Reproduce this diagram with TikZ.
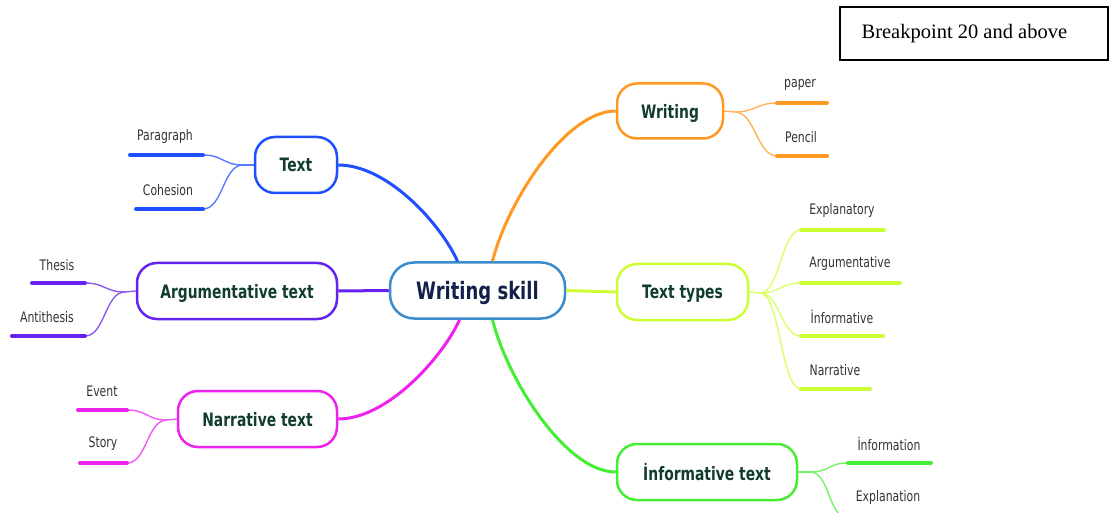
\documentclass[tikz,border=0pt]{standalone}
\usepackage{fontspec}
\newfontfamily\mapfont[FakeStretch=0.75]{DejaVu Sans}
\newfontfamily\boxfont{Liberation Serif}
\usetikzlibrary{calc}
\definecolor{ccentral}{HTML}{3A8CCC}
\definecolor{ccentraltext}{HTML}{15204A}
\definecolor{ctext}{HTML}{1F4FFF}
\definecolor{cpurple}{HTML}{6622EE}
\definecolor{cmag}{HTML}{EE22EE}
\definecolor{corange}{HTML}{FF9922}
\definecolor{clime}{HTML}{CCFF33}
\definecolor{cgreen}{HTML}{44EE33}
\definecolor{nodetext}{HTML}{123D2E}
\definecolor{leaftext}{HTML}{333333}
\tikzset{
  mainnode/.style={draw=#1, line width=2.5pt, rounded corners=20pt, minimum height=56pt,
    inner sep=0pt, fill=white, text=nodetext, text depth=0pt,
    font=\mapfont\bfseries\fontsize{18.5}{20}\selectfont},
  leaflabel/.style={font=\mapfont\fontsize{14.5}{16}\selectfont, text=leaftext, inner sep=0pt},
  underline/.style={draw=#1, line width=4pt, line cap=round},
  branch/.style={draw=#1, line width=3pt},
  twig/.style={draw=#1!75!white, line width=1.4pt},
}
\begin{document}
\begin{tikzpicture}[x=1pt,y=-1pt]
\useasboundingbox (0,0) rectangle (1109,513);
% main nodes
\node[mainnode=ccentral, minimum width=175pt, text=ccentraltext, rounded corners=24pt,
      font=\mapfont\bfseries\fontsize{24}{26}\selectfont] (c) at (477.5,290.5) {Writing skill};
\node[mainnode=ctext, minimum width=82pt] (t) at (296,165) {Text};
\node[mainnode=cpurple, minimum width=200pt] (a) at (237,291) {Argumentative text};
\node[mainnode=cmag, minimum width=159pt] (n) at (257.5,419) {Narrative text};
\node[mainnode=corange, minimum width=106pt, minimum height=55pt] (w) at (670,111) {Writing};
\node[mainnode=clime, minimum width=131pt] (tt) at (682.5,292) {Text types};
\node[mainnode=cgreen, minimum width=180pt] (i) at (707,472) {İnformative text};
% main branches
\draw[branch=ctext] (t.east) .. controls +(50,0) and +(-16,-36) .. ($(c.north)+(-20,0)$);
\draw[branch=corange] ($(c.north)+(15,0)$) .. controls +(15,-60) and +(-50,0) .. (w.west);
\draw[branch=cpurple] (a.east) -- (c.west);
\draw[branch=clime] (c.east) -- (tt.west);
\draw[branch=cmag] (n.east) .. controls +(50,0) and +(-16,36) .. ($(c.south)+(-18,0)$);
\draw[branch=cgreen] ($(c.south)+(15,0)$) .. controls +(15,60) and +(-50,0) .. (i.west);
% ---- Text leaves
\coordinate (tj) at (243,165);
\coordinate (tpa) at (130,155); \coordinate (tpb) at (203,155);
\coordinate (tca) at (136,209); \coordinate (tcb) at (203,209);
\draw[twig=ctext] (t.west) -- (tj);
\draw[twig=ctext] (tj) .. controls +(-20,0) and +(20,0) .. (tpb);
\draw[twig=ctext] (tj) .. controls +(-20,0) and +(20,0) .. (tcb);
\draw[underline=ctext] (tpa) -- (tpb);
\draw[underline=ctext] (tca) -- (tcb);
\node[leaflabel] (lpar) at (165,137) {Paragraph};
\node[leaflabel] (lcoh) at (168,190) {Cohesion};
% ---- Argumentative leaves
\coordinate (aj) at (125,292);
\coordinate (ata) at (32,283); \coordinate (atb) at (85,283);
\coordinate (aaa) at (12,336); \coordinate (aab) at (85,336);
\draw[twig=cpurple] (a.west) -- (aj);
\draw[twig=cpurple] (aj) .. controls +(-20,0) and +(20,0) .. (atb);
\draw[twig=cpurple] (aj) .. controls +(-20,0) and +(20,0) .. (aab);
\draw[underline=cpurple] (ata) -- (atb);
\draw[underline=cpurple] (aaa) -- (aab);
\node[leaflabel] (lthe) at (57,265) {Thesis};
\node[leaflabel] (lant) at (47,317) {Antithesis};
% ---- Narrative leaves
\coordinate (nj) at (167,420);
\coordinate (nea) at (78,410); \coordinate (neb) at (127,410);
\coordinate (nsa) at (80,463); \coordinate (nsb) at (127,463);
\draw[twig=cmag] (n.west) -- (nj);
\draw[twig=cmag] (nj) .. controls +(-20,0) and +(20,0) .. (neb);
\draw[twig=cmag] (nj) .. controls +(-20,0) and +(20,0) .. (nsb);
\draw[underline=cmag] (nea) -- (neb);
\draw[underline=cmag] (nsa) -- (nsb);
\node[leaflabel] (leve) at (102,391) {Event};
\node[leaflabel] (lsto) at (103,444) {Story};
% ---- Writing leaves
\coordinate (wj) at (735,112);
\coordinate (wpa) at (777,103); \coordinate (wpb) at (827,103);
\coordinate (wca) at (777,156); \coordinate (wcb) at (827,156);
\draw[twig=corange] (w.east) -- (wj);
\draw[twig=corange] (wj) .. controls +(20,0) and +(-20,0) .. (wpa);
\draw[twig=corange] (wj) .. controls +(20,0) and +(-20,0) .. (wca);
\draw[underline=corange] (wpa) -- (wpb);
\draw[underline=corange] (wca) -- (wcb);
\node[leaflabel] (lpap) at (800,85) {paper};
\node[leaflabel] (lpen) at (801,137) {Pencil};
% ---- Text types leaves
\coordinate (ttj) at (760,293);
\coordinate (x1a) at (801,230); \coordinate (x1b) at (884,230);
\coordinate (x2a) at (801,283); \coordinate (x2b) at (900,283);
\coordinate (x3a) at (801,336); \coordinate (x3b) at (883,336);
\coordinate (x4a) at (801,389); \coordinate (x4b) at (870,389);
\draw[twig=clime] (tt.east) -- (ttj);
\draw[twig=clime] (ttj) .. controls +(20,0) and +(-20,0) .. (x1a);
\draw[twig=clime] (ttj) .. controls +(20,0) and +(-20,0) .. (x2a);
\draw[twig=clime] (ttj) .. controls +(20,0) and +(-20,0) .. (x3a);
\draw[twig=clime] (ttj) .. controls +(20,0) and +(-20,0) .. (x4a);
\draw[underline=clime] (x1a) -- (x1b);
\draw[underline=clime] (x2a) -- (x2b);
\draw[underline=clime] (x3a) -- (x3b);
\draw[underline=clime] (x4a) -- (x4b);
\node[leaflabel] (lexp) at (842,211) {Explanatory};
\node[leaflabel] (larg) at (850,264) {Argumentative};
\node[leaflabel] (linf) at (842,317) {İnformative};
\node[leaflabel] (lnar) at (835,370) {Narrative};
% ---- Informative text leaves
\coordinate (ij) at (810,472);
\coordinate (i1a) at (848,463); \coordinate (i1b) at (931,463);
\coordinate (i2a) at (848,518); \coordinate (i2b) at (930,518);
\draw[twig=cgreen] (i.east) -- (ij);
\draw[twig=cgreen] (ij) .. controls +(20,0) and +(-20,0) .. (i1a);
\draw[twig=cgreen] (ij) .. controls +(20,0) and +(-20,0) .. (i2a);
\draw[underline=cgreen] (i1a) -- (i1b);
\draw[underline=cgreen] (i2a) -- (i2b);
\node[leaflabel] (linfo) at (889,444) {İnformation};
\node[leaflabel] (lexpl) at (888,497) {Explanation};
% ---- breakpoint box
\node[draw=black, line width=1.2pt, minimum width=268pt, minimum height=53pt, inner sep=0pt] (bp) at (974,33.5) {};
\node[anchor=west, inner sep=0pt, font=\boxfont\fontsize{20.5}{22}\selectfont] (bpt) at ($(bp.west)+(22,0)$) {Breakpoint 20 and above};
\end{tikzpicture}
\end{document}
